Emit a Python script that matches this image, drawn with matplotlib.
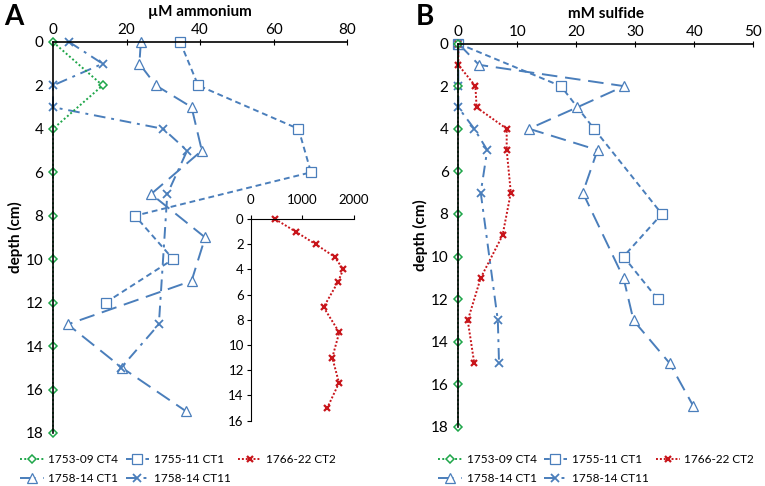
import numpy as np
import matplotlib
matplotlib.use("Agg")
import matplotlib.pyplot as plt

plt.rcParams["font.family"] = ["Lato", "DejaVu Sans"]

BLUE = "#4a7ebb"
GREEN = "#1fa64a"
RED = "#c8151b"

# ---- panel A: ammonium (uM) ----
a_ct4_depth = [0, 2, 4, 6, 8, 10, 12, 14, 16, 18]
a_ct4_val = [0, 13.5, 0, 0, 0, 0, 0, 0, 0, 0]

a_1755_depth = [0, 2, 4, 6, 8, 10, 12]
a_1755_val = [34.6, 39.5, 66.8, 70.2, 22.3, 32.7, 14.3]

a_1758ct1_depth = [0, 1, 2, 3, 5, 7, 9, 11, 13, 15, 17]
a_1758ct1_val = [23.9, 23.5, 28.0, 37.7, 40.5, 26.7, 41.4, 37.7, 4.0, 18.8, 36.2]

a_1758ct11_depth = [0, 1, 2, 3, 4, 5, 7, 13, 15]
a_1758ct11_val = [4.4, 13.5, 0, 0, 30.0, 36.5, 31.1, 28.8, 18.5]

# inset: 1766-22 CT2 ammonium
a_1766_depth = [0, 1, 2, 3, 4, 5, 7, 9, 11, 13, 15]
a_1766_val = [470, 870, 1257, 1625, 1792, 1690, 1412, 1715, 1580, 1710, 1482]

# ---- panel B: sulfide (mM) ----
b_ct4_depth = [0, 2, 4, 6, 8, 10, 12, 14, 16, 18]
b_ct4_val = [0, 0, 0, 0, 0, 0, 0, 0, 0, 0]

b_1755_depth = [0, 2, 4, 8, 10, 12]
b_1755_val = [0, 17.4, 23.0, 34.5, 28.0, 33.8]

b_1766_depth = [0, 1, 2, 3, 4, 5, 7, 9, 11, 13, 15]
b_1766_val = [0, 0, 2.9, 3.1, 8.2, 8.2, 8.9, 7.5, 3.8, 1.6, 2.7]

b_1758ct1_depth = [0, 1, 2, 3, 4, 5, 7, 11, 13, 15, 17]
b_1758ct1_val = [0, 3.5, 28.1, 20.1, 12.0, 23.6, 21.1, 28.0, 29.7, 35.8, 39.8]

b_1758ct11_depth = [0, 2, 3, 4, 5, 7, 13, 15]
b_1758ct11_val = [0, 0, 0, 2.7, 4.9, 3.8, 6.7, 6.9]

sty = {
    "1753-09 CT4": dict(color=GREEN, ls=(0, (1, 1.2)), marker="D", ms=4.5, mfc="white", mew=1.1),
    "1755-11 CT1": dict(color=BLUE, ls=(0, (3, 2)), marker="s", ms=6.5, mfc="white", mew=0.9),
    "1766-22 CT2": dict(color=RED, ls=(0, (1, 1)), marker="x", ms=5, mew=1.6),
    "1758-14 CT1": dict(color=BLUE, ls=(0, (8, 4)), marker="^", ms=6.5, mfc="white", mew=0.9),
    "1758-14 CT11": dict(color=BLUE, ls=(0, (6, 3, 1.5, 3)), marker="x", ms=6, mew=1.3),
}

fig = plt.figure(figsize=(7.65, 4.86), dpi=100)


def style_axes(ax, xmax, xstep):
    ax.set_ylim(18, 0)
    ax.set_xlim(0, xmax)
    ax.set_xticks(np.arange(0, xmax + 1, xstep))
    ax.set_yticks(np.arange(0, 19, 2))
    ax.xaxis.tick_top()
    ax.spines["bottom"].set_visible(False)
    ax.spines["right"].set_visible(False)
    ax.spines["top"].set_linewidth(1.2)
    ax.spines["left"].set_linewidth(1.2)
    ax.tick_params(axis="x", direction="inout", length=5, labelsize=11, pad=1)
    ax.tick_params(axis="y", length=0, labelsize=11, pad=7)
    ax.patch.set_alpha(0)


def draw(ax, d, v, name):
    line, = ax.plot(v, d, lw=1.4, clip_on=False, label=name, **sty[name])
    return line


axA = fig.add_axes([0.0693, 0.1091, 0.3843, 0.8045])
style_axes(axA, 80, 20)
h = {}
h["1755-11 CT1"] = draw(axA, a_1755_depth, a_1755_val, "1755-11 CT1")
h["1758-14 CT1"] = draw(axA, a_1758ct1_depth, a_1758ct1_val, "1758-14 CT1")
h["1758-14 CT11"] = draw(axA, a_1758ct11_depth, a_1758ct11_val, "1758-14 CT11")
h["1753-09 CT4"] = draw(axA, a_ct4_depth, a_ct4_val, "1753-09 CT4")
axA.set_xlabel("µM ammonium", fontsize=11, fontweight="bold", labelpad=5)
axA.xaxis.set_label_position("top")
axA.set_ylabel("depth (cm)", fontsize=11, fontweight="bold", labelpad=2)

axI = fig.add_axes([0.3277, 0.1344, 0.135, 0.415])
axI.set_ylim(16, 0)
axI.set_xlim(0, 2000)
axI.set_xticks([0, 1000, 2000])
axI.set_yticks(np.arange(0, 17, 2))
axI.xaxis.tick_top()
axI.spines["bottom"].set_visible(False)
axI.spines["right"].set_visible(False)
axI.tick_params(axis="both", direction="out", length=3, labelsize=9.5, pad=2)
axI.tick_params(axis="x", pad=6)
axI.patch.set_alpha(0)
h["1766-22 CT2"] = draw(axI, a_1766_depth, a_1766_val, "1766-22 CT2")

axB = fig.add_axes([0.5991, 0.1214, 0.3856, 0.789])
style_axes(axB, 50, 10)
draw(axB, b_1755_depth, b_1755_val, "1755-11 CT1")
draw(axB, b_1758ct1_depth, b_1758ct1_val, "1758-14 CT1")
draw(axB, b_1758ct11_depth, b_1758ct11_val, "1758-14 CT11")
draw(axB, b_1766_depth, b_1766_val, "1766-22 CT2")
draw(axB, b_ct4_depth, b_ct4_val, "1753-09 CT4")
axB.set_xlabel("mM sulfide", fontsize=11, fontweight="bold", labelpad=5)
axB.xaxis.set_label_position("top")
axB.set_ylabel("depth (cm)", fontsize=11, fontweight="bold", labelpad=2)

order = ["1753-09 CT4", "1758-14 CT1", "1755-11 CT1", "1758-14 CT11", "1766-22 CT2"]
leg_kw = dict(ncol=3, frameon=False, fontsize=8.5, handlelength=2.0,
              columnspacing=0.6, handletextpad=0.4, labelspacing=0.65, borderpad=0.3)
fig.legend([h[k] for k in order], order, loc="lower left",
           bbox_to_anchor=(0.014, -0.015), **leg_kw)
fig.legend([h[k] for k in order], order, loc="lower right",
           bbox_to_anchor=(0.998, -0.015), **leg_kw)

fig.text(0.005, 0.965, "A", fontsize=20, fontweight="bold", va="center")
fig.text(0.543, 0.965, "B", fontsize=20, fontweight="bold", va="center")

fig.savefig("out.png", dpi=100)
